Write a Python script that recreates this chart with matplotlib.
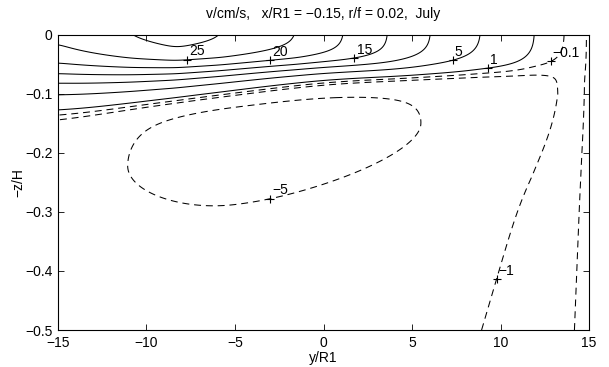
import numpy as np
import matplotlib
matplotlib.use('Agg')
import matplotlib.pyplot as plt
from matplotlib.ticker import FuncFormatter

plt.rcParams['font.family'] = ['Liberation Sans', 'DejaVu Sans']
plt.rcParams['lines.scale_dashes'] = False
plt.rcParams['lines.dashed_pattern'] = [5.0, 3.5]

# contour levels in cm/s (solid > 0, dashed < 0)
levels_pos = [1, 5, 10, 15, 20, 25, 30]
levels_neg = [-5, -1, -0.1]

# labelled contours and where the labels sit (y/R1, -z/H)
label_levels = [25, 20, 15, 5, 1, -0.1, -5, -1]
label_y = [-7.7, -3.0, 1.7, 7.3, 9.3, 12.9, -2.9, 9.7]
label_z = [-0.039, -0.041, -0.037, -0.042, -0.058, -0.046, -0.283, -0.414]

# speed along the surface z = 0
surf_y = [-15, -10.8, -8.3, -5.85, -1.6, 1.1, 3.6, 6.0, 8.8, 11.8, 13.5, 14.2, 14.8, 15]
surf_v = [26, 30, 31.6, 30, 25, 20, 15, 10, 5, 1, -0.1, -0.35, -0.1, 0]

# surface jet: depth and thickness of its base
jet_y = [-15, -8, 0, 4, 7.3, 15]
jet_depth = [0.072, 0.064, 0.052, 0.055, 0.050, 0.050]
jet_width = [0.046, 0.032, 0.021, 0.019, 0.023, 0.025]

# top of the return flow below the jet
low_y = [-15, -6, 0, 8, 15]
low_depth = [0.14, 0.112, 0.09, 0.075, 0.075]
low_width = 0.018

# return flow speeds (cm/s, magnitudes)
flow_top = 0.6
flow_low = 2.0
core_speed = 6.0
core_y = -5.0
core_len = (7.3, 12.9)       # west, east of the core
core_thick = (0.15, 0.093)   # above, below the core axis
axis_y = [-15, -5, 5, 15]
axis_s = [0.225, 0.215, 0.155, 0.095]

# decay toward the wall at y/R1 = 15
wall_scale_top = 0.8
wall_depth = [0.1, 0.24, 0.5]
wall_scale = [4.0, 5.8, 10.0]
wall_power = 1.2


def smooth(xs, vals, grid, width):
    raw = np.interp(grid, xs, vals)
    dx = grid[1] - grid[0]
    k = np.arange(-3 * width, 3 * width + dx / 2, dx)
    kern = np.exp(-0.5 * (k / width) ** 2)
    kern /= kern.sum()
    pad = len(k) // 2
    return np.convolve(np.pad(raw, pad, mode='edge'), kern, 'valid')


y = np.linspace(-15, 15, 601)
s = np.linspace(0, 0.5, 401)
Y, S = np.meshgrid(y, s)

v_surf = smooth(surf_y, surf_v, y, 0.35)
H = smooth(jet_y, jet_depth, y, 2.0)
W = smooth(jet_y, jet_width, y, 2.0)
Hn = smooth(low_y, low_depth, y, 2.0)
sc = smooth(axis_y, axis_s, y, 2.5)

U = 0.5 * (1 + np.tanh((S - Hn) / low_width))
xi = Y - core_y
eta = S - sc
Lxi = np.where(xi < 0, core_len[0], core_len[1])
Leta = np.where(eta < 0, core_thick[0], core_thick[1])
C = core_speed * np.exp(-(xi / Lxi) ** 2 - (eta / Leta) ** 2)
A = flow_top + (flow_low - flow_top + C) * U
lam = wall_scale_top + (np.interp(S, wall_depth, wall_scale) - wall_scale_top) * U
taper = np.tanh(((15 - Y) / lam) ** wall_power)
N = -A * taper
P = (1 - np.tanh((S - H) / W)) / (1 + np.tanh(H / W))
V = (v_surf - N[0]) * P + N
Z = -S

fig = plt.figure(figsize=(6.09, 3.67), dpi=100)
ax = fig.add_axes([0.0952, 0.1008, 0.872, 0.804])
cs_pos = ax.contour(Y, Z, V, levels=levels_pos, colors='k', linestyles='solid', linewidths=0.75)
cs_neg = ax.contour(Y, Z, V, levels=levels_neg, colors='k', linestyles='dashed', linewidths=0.75)

for lv, ly, lz in zip(label_levels, label_y, label_z):
    cs = cs_pos if lv > 0 else cs_neg
    lvls = list(cs.levels)
    verts = cs.get_paths()[lvls.index(lv)].vertices
    d = ((verts[:, 0] - ly) / 30) ** 2 + ((verts[:, 1] - lz) / 0.5) ** 2
    px, pz = verts[np.argmin(d)]
    ax.plot(px, pz, marker='+', color='k', ms=6, mew=0.8)
    ax.annotate(f'{lv:g}'.replace('-', '\u2212'), (px, pz), xytext=(1.5, 1),
                textcoords='offset points', fontsize=10, ha='left', va='bottom')

ax.set_xlim(-15, 15)
ax.set_ylim(-0.5, 0)
ax.set_xticks(np.arange(-15, 16, 5))
ax.set_yticks([-0.5, -0.4, -0.3, -0.2, -0.1, 0])
ax.yaxis.set_major_formatter(FuncFormatter(lambda v, p: f'{v:g}'.replace('-', '\u2212')))
ax.xaxis.set_major_formatter(FuncFormatter(lambda v, p: f'{v:g}'.replace('-', '\u2212')))
ax.tick_params(direction='in', top=True, right=True, length=4, width=0.6, labelsize=10, pad=4)
for sp in ax.spines.values():
    sp.set_linewidth(0.8)
ax.set_xlabel('y/R1', fontsize=10, labelpad=1)
ax.set_ylabel('\u2212z/H', fontsize=10, labelpad=0)
ax.set_title('v/cm/s,   x/R1 = \u22120.15, r/f = 0.02,  July', fontsize=10, pad=12)

fig.savefig('out.png', dpi=100)
